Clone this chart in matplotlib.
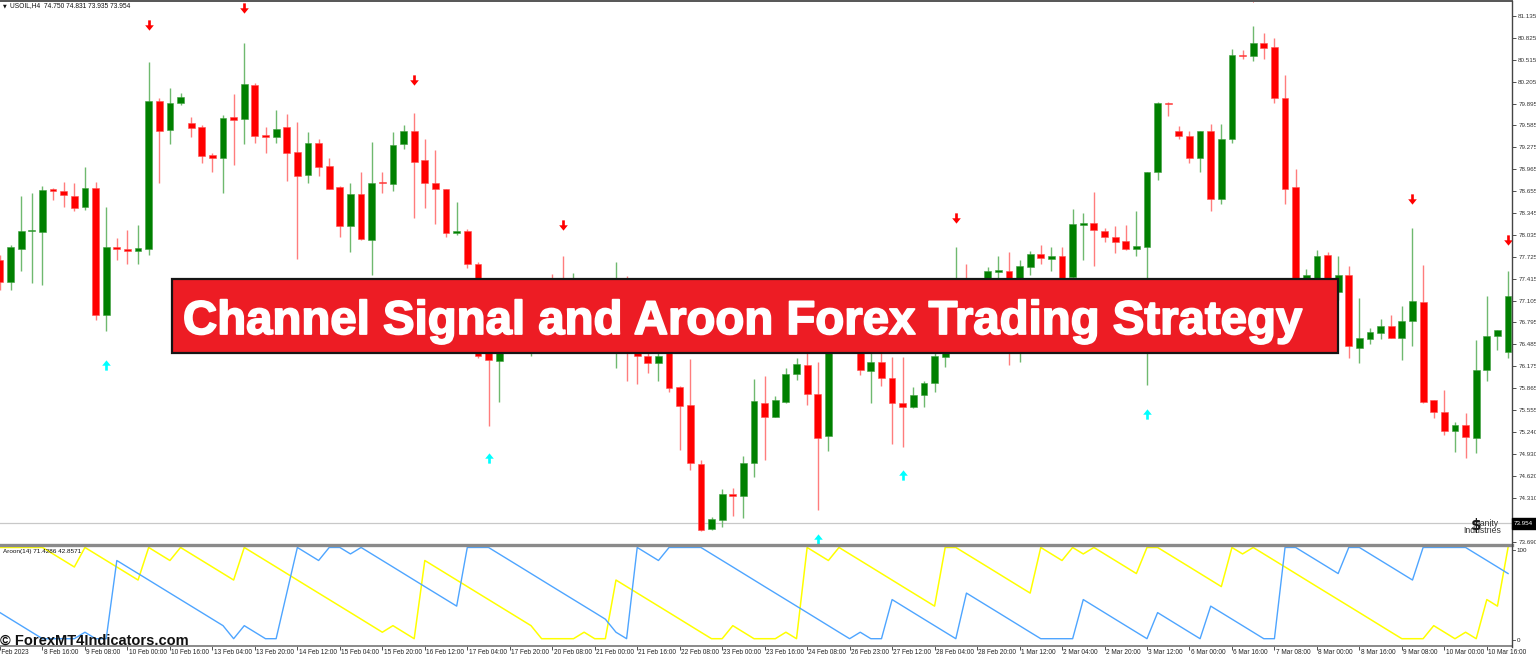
import matplotlib
matplotlib.use('Agg')
import matplotlib.pyplot as plt
from matplotlib.lines import Line2D
from matplotlib.patches import Rectangle
from matplotlib.path import Path
import matplotlib.patheffects as pe
import matplotlib.transforms as mtransforms
import numpy as np

# ---------------- data ----------------
opens = [77.68, 77.37, 77.84, 78.09, 78.08, 78.68, 78.66, 78.59, 78.43, 78.70,
         76.90, 77.87, 77.84, 77.81, 77.84, 79.93, 79.52, 79.90, 79.62, 79.56,
         79.17, 79.13, 79.70, 79.68, 80.16, 79.45, 79.42, 79.56, 79.21, 78.88,
         79.34, 79.01, 78.71, 78.16, 78.61, 77.97, 78.78, 78.75, 79.32, 79.50,
         79.09, 78.77, 78.68, 78.06, 78.09, 77.62, 76.40, 76.25, 76.62, 77.10,
         76.55, 76.90, 77.25, 77.11, 76.62, 77.11, 76.83, 77.04, 76.55, 77.11,
         76.62, 76.32, 76.22, 76.40, 75.88, 75.63, 74.79, 73.87, 74.00, 74.36,
         74.33, 74.81, 75.66, 75.46, 75.67, 76.06, 76.19, 75.78, 75.18, 76.55,
         76.90, 76.48, 76.11, 76.24, 76.01, 75.66, 75.60, 75.77, 75.94, 76.31,
         76.69, 77.33, 76.97, 77.25, 77.51, 77.53, 77.11, 77.58, 77.76, 77.69,
         77.74, 77.44, 78.18, 78.20, 78.09, 78.01, 77.95, 77.84, 77.87, 78.93,
         79.91, 79.51, 79.44, 79.13, 79.51, 78.54, 79.39, 80.59, 80.57, 80.75,
         80.69, 79.98, 78.71, 77.11, 77.11, 77.75, 77.23, 77.47, 76.44, 76.56,
         76.65, 76.74, 76.58, 76.81, 77.09, 75.70, 75.53, 75.26, 75.34, 75.16,
         76.12, 76.60, 76.38]
highs = [77.75, 77.89, 78.58, 78.63, 78.73, 78.70, 78.79, 78.77, 78.99, 78.79,
         78.43, 77.99, 78.10, 78.18, 80.48, 79.98, 80.12, 80.04, 79.70, 79.59,
         79.20, 79.73, 80.03, 80.76, 80.18, 79.56, 79.81, 79.75, 79.64, 79.49,
         79.39, 79.13, 78.73, 78.77, 78.93, 79.35, 78.92, 79.49, 79.59, 79.76,
         79.39, 79.24, 78.69, 78.50, 78.12, 77.65, 76.55, 76.76, 77.23, 77.25,
         77.11, 77.18, 77.48, 77.74, 77.50, 77.25, 77.25, 77.23, 77.65, 77.46,
         76.90, 76.48, 76.48, 76.55, 75.90, 76.28, 74.84, 74.04, 74.43, 74.45,
         74.90, 76.00, 76.03, 75.75, 76.15, 76.29, 76.40, 76.24, 76.62, 77.11,
         77.04, 76.62, 76.48, 76.43, 76.31, 76.30, 75.88, 75.97, 76.48, 77.17,
         77.86, 77.62, 77.40, 77.58, 77.74, 77.79, 77.68, 77.81, 77.89, 77.87,
         77.86, 78.40, 78.34, 78.64, 78.13, 78.16, 78.18, 78.38, 78.93, 79.92,
         79.92, 79.58, 79.50, 79.51, 79.61, 79.60, 80.67, 80.66, 81.00, 80.89,
         80.83, 80.30, 78.97, 77.55, 77.82, 77.80, 77.74, 77.59, 77.14, 76.71,
         76.84, 76.90, 77.03, 78.13, 77.61, 75.70, 75.84, 75.39, 75.51, 76.55,
         77.17, 76.69, 77.53]
lows = [77.25, 77.25, 77.53, 77.36, 77.33, 78.53, 78.43, 78.37, 78.39, 76.83,
        76.67, 77.68, 77.63, 77.63, 77.75, 78.77, 79.32, 79.87, 79.42, 79.05,
        78.93, 78.63, 79.03, 79.32, 79.34, 79.19, 79.33, 78.80, 77.69, 78.77,
        78.87, 78.68, 78.01, 77.80, 77.96, 77.47, 78.63, 78.66, 79.25, 78.28,
        78.41, 78.19, 78.00, 78.04, 77.57, 76.29, 75.33, 75.67, 76.57, 76.69,
        76.32, 76.62, 76.55, 76.48, 76.52, 76.69, 76.62, 76.55, 76.15, 75.96,
        75.92, 76.08, 75.96, 75.81, 74.99, 74.70, 73.84, 73.85, 73.90, 74.06,
        74.02, 74.60, 74.85, 75.46, 75.65, 75.98, 75.62, 74.14, 74.98, 76.48,
        76.43, 76.05, 75.66, 75.90, 75.08, 75.03, 75.58, 75.60, 75.81, 76.16,
        76.62, 76.83, 76.90, 77.11, 77.33, 76.19, 76.24, 77.47, 77.63, 77.53,
        77.42, 77.33, 77.68, 77.59, 77.94, 77.78, 77.82, 77.74, 75.91, 78.81,
        79.72, 79.39, 79.05, 78.92, 78.38, 78.47, 79.34, 80.52, 80.50, 80.52,
        79.91, 78.47, 76.97, 76.86, 77.04, 76.97, 77.11, 76.29, 76.22, 76.49,
        76.56, 76.57, 76.27, 76.46, 75.65, 75.44, 75.20, 74.96, 74.87, 74.94,
        75.97, 76.41, 76.29]
closes = [77.37, 77.87, 78.09, 78.10, 78.67, 78.65, 78.60, 78.42, 78.70, 76.90,
          77.87, 77.84, 77.81, 77.85, 79.93, 79.51, 79.91, 79.99, 79.55, 79.15,
          79.13, 79.69, 79.66, 80.17, 79.44, 79.42, 79.54, 79.20, 78.87, 79.34,
          79.00, 78.69, 78.16, 78.62, 77.98, 78.77, 78.77, 79.31, 79.51, 79.07,
          78.77, 78.68, 78.06, 78.09, 77.62, 76.32, 76.26, 76.62, 77.11, 76.83,
          76.90, 76.76, 76.69, 76.62, 77.11, 76.83, 77.04, 76.86, 77.11, 76.48,
          76.32, 76.22, 76.32, 75.86, 75.61, 74.80, 73.86, 74.01, 74.36, 74.34,
          74.81, 75.68, 75.46, 75.69, 76.06, 76.21, 75.78, 75.16, 76.55, 76.90,
          76.55, 76.12, 76.23, 76.01, 75.65, 75.60, 75.77, 75.94, 76.32, 76.69,
          77.33, 76.97, 77.33, 77.52, 77.54, 77.11, 77.59, 77.76, 77.71, 77.73,
          77.43, 78.19, 78.19, 78.10, 78.01, 77.94, 77.83, 77.88, 78.93, 79.91,
          79.89, 79.44, 79.13, 79.51, 78.54, 79.39, 80.59, 80.57, 80.75, 80.68,
          79.98, 78.68, 77.11, 77.47, 77.74, 77.11, 77.47, 76.46, 76.57, 76.66,
          76.74, 76.57, 76.82, 77.10, 75.67, 75.53, 75.26, 75.34, 75.17, 76.12,
          76.60, 76.69, 77.17]

sell_bars = [14, 23, 39, 53, 90, 118, 133, 142]
sell_prices = [81.01, 81.25, 80.23, 78.17, 78.27, 81.40, 78.55, 77.96]
buy_bars = [10, 46, 77, 85, 108]
buy_prices = [76.19, 74.87, 73.73, 74.63, 75.50]

aroon_up = [100, 100, 100, 100, 100, 92.9, 85.7, 78.6, 100, 92.9,
            85.7, 78.6, 71.4, 64.3, 100, 92.9, 85.7, 100, 92.9, 85.7,
            78.6, 71.4, 64.3, 100, 92.9, 85.7, 78.6, 71.4, 64.3, 57.1,
            50.0, 42.9, 35.7, 28.6, 21.4, 14.3, 7.1, 14.3, 7.1, 0,
            85.7, 78.6, 71.4, 64.3, 57.1, 50.0, 42.9, 35.7, 28.6, 21.4,
            14.3, 0, 0, 0, 0, 7.1, 0, 0, 64.3, 57.1,
            50.0, 42.9, 35.7, 28.6, 21.4, 14.3, 7.1, 0, 0, 14.3,
            7.1, 0, 0, 0, 7.1, 0, 100, 92.9, 85.7, 100,
            92.9, 85.7, 78.6, 71.4, 64.3, 57.1, 50.0, 42.9, 35.7, 100,
            100, 92.9, 85.7, 78.6, 71.4, 64.3, 57.1, 50.0, 100, 92.9,
            85.7, 100, 92.9, 100, 92.9, 85.7, 78.6, 71.4, 100, 100,
            92.9, 85.7, 78.6, 71.4, 64.3, 57.1, 100, 92.9, 100, 92.9,
            85.7, 78.6, 71.4, 64.3, 57.1, 50.0, 42.9, 35.7, 28.6, 21.4,
            14.3, 7.1, 0, 0, 0, 14.3, 7.1, 0, 7.1, 0,
            42.9, 35.7, 100]
aroon_down = [28.6, 21.4, 14.3, 7.1, 0, 0, 0, 0, 7.1, 0,
              0, 85.7, 78.6, 71.4, 64.3, 57.1, 50.0, 42.9, 35.7, 28.6,
              21.4, 14.3, 0, 14.3, 7.1, 0, 0, 50.0, 100, 92.9,
              85.7, 100, 100, 92.9, 100, 92.9, 85.7, 78.6, 71.4, 64.3,
              57.1, 50.0, 42.9, 35.7, 100, 100, 100, 92.9, 85.7, 78.6,
              71.4, 64.3, 57.1, 50.0, 42.9, 35.7, 28.6, 21.4, 7.1, 0,
              100, 92.9, 85.7, 100, 100, 100, 100, 92.9, 85.7, 78.6,
              71.4, 64.3, 57.1, 50.0, 42.9, 35.7, 28.6, 21.4, 14.3, 7.1,
              0, 7.1, 0, 0, 42.9, 35.7, 28.6, 21.4, 14.3, 7.1,
              0, 50.0, 42.9, 35.7, 28.6, 21.4, 14.3, 7.1, 0, 0,
              0, 0, 42.9, 35.7, 28.6, 21.4, 14.3, 7.1, 0, 28.6,
              21.4, 14.3, 7.1, 0, 35.7, 28.6, 21.4, 14.3, 7.1, 0,
              0, 100, 100, 92.9, 85.7, 78.6, 71.4, 100, 100, 92.9,
              85.7, 78.6, 71.4, 64.3, 100, 100, 100, 100, 100, 92.9,
              85.7, 78.6, 71.4]

price_ticks = [81.135, 80.825, 80.515, 80.205, 79.895, 79.585, 79.275, 78.965,
               78.655, 78.345, 78.035, 77.725, 77.415, 77.105, 76.795, 76.485,
               76.175, 75.865, 75.555, 75.240, 74.930, 74.620, 74.310, 73.690]
price_labels = ['%.3f' % v for v in price_ticks]
current_price = 73.954

time_labels = ['8 Feb 2023', '8 Feb 16:00', '9 Feb 08:00', '10 Feb 00:00', '10 Feb 16:00',
               '13 Feb 04:00', '13 Feb 20:00', '14 Feb 12:00', '15 Feb 04:00', '15 Feb 20:00',
               '16 Feb 12:00', '17 Feb 04:00', '17 Feb 20:00', '20 Feb 08:00', '21 Feb 00:00',
               '21 Feb 16:00', '22 Feb 08:00', '23 Feb 00:00', '23 Feb 16:00', '24 Feb 08:00',
               '26 Feb 23:00', '27 Feb 12:00', '28 Feb 04:00', '28 Feb 20:00', '1 Mar 12:00',
               '2 Mar 04:00', '2 Mar 20:00', '3 Mar 12:00', '6 Mar 00:00', '6 Mar 16:00',
               '7 Mar 08:00', '8 Mar 00:00', '8 Mar 16:00', '9 Mar 08:00', '10 Mar 00:00',
               '10 Mar 16:00']
time_label_bars = list(range(0, 141, 4))

title = 'Channel Signal and Aroon Forex Trading Strategy'

# ---------------- layout ----------------
W, H = 1536, 657
fig = plt.figure(figsize=(W / 100, H / 100), dpi=100)
fig.patch.set_facecolor('white')


def fx(px):
    return px / W


def fy(py):
    return 1 - py / H


TXT = 'Liberation Sans'
ax = fig.add_axes([0, fy(545), 1512 / W, (545 - 2) / H])
axa = fig.add_axes([0, fy(646), 1512 / W, (646 - 546) / H])

for a in (ax, axa):
    a.set_facecolor('white')
    for s in a.spines.values():
        s.set_visible(False)
    a.set_xlim(0, 142.37)

ax.set_ylim(73.643, 81.334)
axa.set_ylim(-8.0, 101.6)

# ---------------- candles ----------------
o = np.array(opens); h = np.array(highs); l = np.array(lows); c = np.array(closes)
idx = np.arange(len(o))
bull = c >= o
lo_body = np.minimum(o, c)
hb = np.maximum(np.abs(c - o), 0.018)

ax.vlines(idx[bull], l[bull], h[bull], color='#6fb96f', lw=1.0, zorder=2)
ax.vlines(idx[~bull], l[~bull], h[~bull], color='#ff7d7d', lw=1.0, zorder=2)
ax.bar(idx[bull], hb[bull], bottom=lo_body[bull], width=0.64, color='#008000',
       edgecolor='#3f9f3f', lw=0.4, zorder=3)
ax.bar(idx[~bull], hb[~bull], bottom=lo_body[~bull], width=0.64, color='#ff0000',
       edgecolor='#ff5050', lw=0.4, zorder=3)

# signal arrows (thick arrow marker like MT4 wingdings)
down_arrow = Path([(-0.13, 0.5), (0.13, 0.5), (0.13, 0.02), (0.42, 0.02), (0.0, -0.5),
                   (-0.42, 0.02), (-0.13, 0.02), (-0.13, 0.5)],
                  [Path.MOVETO] + [Path.LINETO] * 6 + [Path.CLOSEPOLY])
up_arrow = Path([(x, -y) for x, y in down_arrow.vertices], down_arrow.codes)
ax.plot(sell_bars, sell_prices, linestyle='none', marker=down_arrow, markersize=7.4,
        color='#ff0000', markeredgewidth=0, zorder=4)
ax.plot(buy_bars, buy_prices, linestyle='none', marker=up_arrow, markersize=7.4,
        color='#00ffff', markeredgewidth=0, zorder=4)

# bid line
ax.axhline(current_price, color='#c8c8c8', lw=0.9, zorder=1)

# price axis
ax.yaxis.tick_right()
ax.set_yticks(price_ticks)
ax.set_yticklabels(price_labels, fontsize=4.5, family=TXT, color='#222222')
ax.tick_params(axis='y', direction='out', length=3, width=0.6, pad=1.5, colors='#333333')
ax.set_xticks([])

# ---------------- Aroon ----------------
axa.plot(idx, aroon_up, color='#ffff00', lw=1.1, zorder=3)
axa.plot(idx, aroon_down, color='#4ea5ff', lw=1.0, zorder=3)
axa.set_yticks([])
axa.set_xticks(time_label_bars)
axa.set_xticklabels([])
axa.tick_params(axis='x', direction='out', length=3, width=0.6, colors='#333333')

tr = mtransforms.blended_transform_factory(axa.transData, fig.transFigure)
for k, (b, lab) in enumerate(zip(time_label_bars, time_labels)):
    xb = b + 0.12 if k > 0 else -0.35
    axa.text(xb, fy(652.5), lab, transform=tr, fontsize=4.7, family=TXT,
             color='#222222', ha='left', va='center', clip_on=False)

# ---------------- frame lines ----------------
fig.add_artist(Line2D([0, fx(1512)], [fy(1.2), fy(1.2)], color='#555555', lw=1.4))
fig.add_artist(Line2D([0, fx(1512)], [fy(545), fy(545)], color='#8a8a8a', lw=2.4))
fig.add_artist(Line2D([0, fx(1512)], [fy(646.3), fy(646.3)], color='#8a8a8a', lw=1.4))
fig.add_artist(Line2D([fx(1512), fx(1512)], [fy(1), fy(646.5)], color='#444444', lw=1.0))
for yy in (549.5, 640.0):
    fig.add_artist(Line2D([fx(1512), fx(1515)], [fy(yy), fy(yy)], color='#444444', lw=0.6))
fig.text(fx(1516.5), fy(550), '100', fontsize=4.5, family=TXT, color='#222222', va='center')
fig.text(fx(1516.5), fy(640), '0', fontsize=4.5, family=TXT, color='#222222', va='center')

# current price box
fig.add_artist(Rectangle((fx(1512), fy(529)), 24 / W, 11 / H, transform=fig.transFigure,
                         facecolor='black', edgecolor='black', zorder=5))
fig.text(fx(1514), fy(523.5), '%.3f' % current_price, fontsize=4.5, family=TXT, color='white',
         va='center', zorder=6)

# header texts
fig.text(fx(3), fy(5.5), '\u25bc', fontsize=3.5, family='DejaVu Sans', color='#111111', va='center')
fig.text(fx(10), fy(5.5), 'USOIL,H4  74.750 74.831 73.935 73.954', fontsize=4.8, family=TXT,
         color='#111111', va='center')
fig.text(fx(3), fy(552), 'Aroon(14) 71.4286 42.8571', fontsize=4.6, family=TXT,
         color='#111111', va='center')

# logo
fig.text(fx(1475), fy(523), 'Sanity', fontsize=6.2, family=TXT, color='#333333', va='center', zorder=5)
fig.text(fx(1463), fy(530.5), 'Industries', fontsize=6.2, family=TXT, color='#333333', va='center', zorder=5)
fig.text(fx(1476), fy(525.5), '$', fontsize=11, family='DejaVu Sans', fontweight='bold',
         color='#1a1a1a', va='center', ha='center', zorder=6)

# watermark
fig.text(fx(0), fy(640.5), '\u00a9 ForexMT4Indicators.com', fontsize=10.5, family=TXT,
         fontweight='bold', color='#111111', va='center', zorder=6)

# banner
fig.add_artist(Rectangle((fx(172), fy(353)), (1338 - 172) / W, (353 - 279) / H,
                         transform=fig.transFigure, facecolor='#ed1c24', edgecolor='#151515',
                         lw=1.6, zorder=10))
fig.text(fx(183), fy(334), title, fontsize=34.1, family=TXT, fontweight='bold', color='white',
         va='baseline', ha='left', zorder=11,
         path_effects=[pe.Stroke(linewidth=1.3, foreground='white'), pe.Normal()])

fig.savefig('out.png', dpi=100, facecolor='white')
